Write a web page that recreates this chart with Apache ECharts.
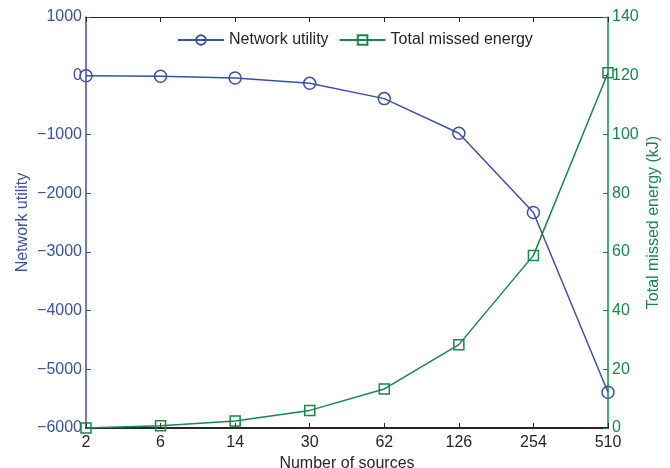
<!DOCTYPE html>
<html>
<head>
<meta charset="utf-8">
<script src="https://cdn.jsdelivr.net/npm/echarts@6/dist/echarts.min.js"></script>
<style>
  html, body { margin: 0; padding: 0; background: #fff; }
  #chart { width: 670px; height: 468px; }
</style>
</head>
<body>
<div id="chart"></div>
<script>
// Number of sources (categorical x axis)
const sources = ['2', '6', '14', '30', '62', '126', '254', '510'];
// Network utility (left axis)
const networkUtility = [0, -10, -40, -130, -390, -980, -2330, -5390];
// Total missed energy in kJ (right axis)
const missedEnergy = [0, 0.8, 2.4, 6, 13.3, 28.4, 58.8, 121];

const BLUE = '#3a52a4';
const GREEN = '#17874a';
const FONT = 'Liberation Sans, Arial, Helvetica, sans-serif';

const fmtMinus = v => String(v).replace('-', '\u2212');

const chart = echarts.init(document.getElementById('chart'), null, { renderer: 'canvas' });

chart.setOption({
  animation: false,
  textStyle: { fontFamily: FONT },
  grid: { left: 86, right: 62, top: 17, bottom: 40, outerBoundsMode: 'none', containLabel: false },
  legend: {
    top: 27,
    left: 172,
    itemWidth: 46,
    itemHeight: 12,
    itemGap: 10,
    textStyle: { fontSize: 16, color: '#262626', fontFamily: FONT },
    data: ['Network utility', 'Total missed energy']
  },
  xAxis: [
    {
      type: 'category',
      data: sources,
      boundaryGap: false,
      name: 'Number of sources',
      nameLocation: 'middle',
      nameGap: 25,
      nameTextStyle: { fontSize: 16, color: '#262626', fontFamily: FONT },
      axisLine: { onZero: false, lineStyle: { color: '#262626', width: 2 } },
      axisTick: { inside: true, length: 5, alignWithLabel: true, lineStyle: { color: '#262626', width: 1 } },
      axisLabel: { fontSize: 16, color: '#262626', margin: 7, fontFamily: FONT },
      splitLine: { show: false }
    },
    {
      type: 'category',
      data: sources,
      boundaryGap: false,
      position: 'top',
      axisLine: { onZero: false, lineStyle: { color: '#262626', width: 1 } },
      axisTick: { inside: true, length: 5, lineStyle: { color: '#262626', width: 1 } },
      axisLabel: { show: false },
      splitLine: { show: false }
    }
  ],
  yAxis: [
    {
      type: 'value',
      min: -6000,
      max: 1000,
      interval: 1000,
      name: 'Network utility',
      nameLocation: 'middle',
      nameRotate: 90,
      nameGap: 55,
      nameMoveOverlap: false,
      nameTextStyle: { fontSize: 16, color: BLUE, fontFamily: FONT },
      axisLine: { show: true, onZero: false, lineStyle: { color: BLUE, width: 1.5 } },
      axisTick: { show: true, inside: true, length: 5, lineStyle: { color: BLUE } },
      axisLabel: { fontSize: 16, color: BLUE, margin: 4, formatter: fmtMinus, fontFamily: FONT },
      splitLine: { show: false }
    },
    {
      type: 'value',
      min: 0,
      max: 140,
      interval: 20,
      position: 'right',
      name: 'Total missed energy (kJ)',
      nameLocation: 'middle',
      nameRotate: 90,
      nameGap: 38,
      nameMoveOverlap: false,
      nameTextStyle: { fontSize: 16, color: GREEN, fontFamily: FONT },
      axisLine: { show: true, onZero: false, lineStyle: { color: GREEN, width: 1.5 } },
      axisTick: { show: true, inside: true, length: 5, lineStyle: { color: GREEN } },
      axisLabel: { fontSize: 16, color: GREEN, margin: 4, fontFamily: FONT },
      splitLine: { show: false }
    }
  ],
  series: [
    {
      name: 'Network utility',
      type: 'line',
      xAxisIndex: 0,
      yAxisIndex: 0,
      data: networkUtility,
      symbol: 'circle',
      symbolSize: 12,
      lineStyle: { color: BLUE, width: 1.5 },
      itemStyle: { color: 'rgba(255,255,255,0)', borderColor: BLUE, borderWidth: 1.5 },
      z: 3
    },
    {
      name: 'Total missed energy',
      type: 'line',
      xAxisIndex: 0,
      yAxisIndex: 1,
      data: missedEnergy,
      symbol: 'rect',
      symbolSize: 10,
      lineStyle: { color: GREEN, width: 1.5 },
      itemStyle: { color: 'rgba(255,255,255,0)', borderColor: GREEN, borderWidth: 1.5 },
      z: 4
    }
  ]
});
</script>
</body>
</html>
